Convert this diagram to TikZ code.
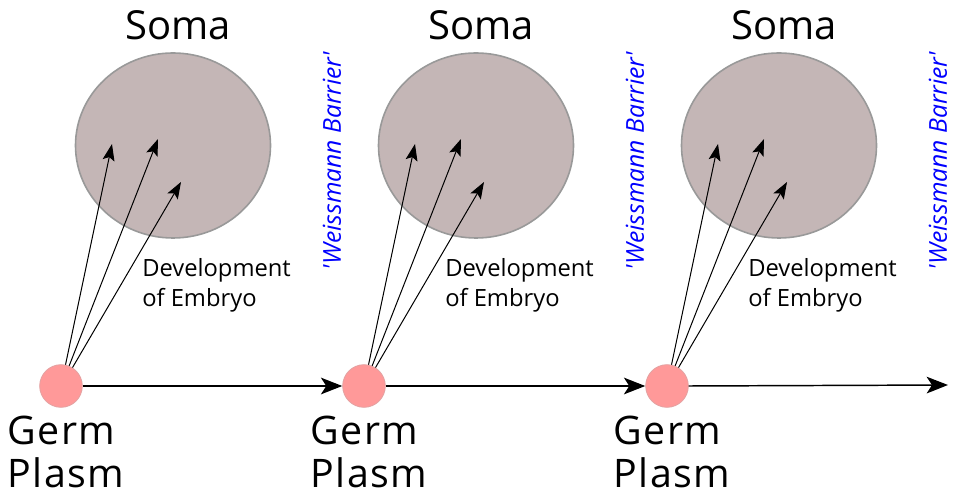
\documentclass[tikz,border=0pt]{standalone}
\usepackage{fontspec}
\setmainfont{Open Sans}
\newfontfamily\germfont[LetterSpace=4]{Open Sans}
\newfontfamily\barrierfont{Open Sans}
\usetikzlibrary{arrows.meta,shapes.geometric}
\definecolor{somafill}{HTML}{C4B6B6}
\definecolor{somaline}{HTML}{999999}
\definecolor{germfill}{HTML}{FF9999}
\definecolor{germline}{HTML}{E3A3A3}
\definecolor{barrierblue}{HTML}{0000FF}
\tikzset{
  somabox/.style={ellipse, draw=somaline, fill=somafill, line width=1.2pt, minimum width=146.25pt, minimum height=138.75pt, inner sep=0pt},
  germdot/.style={circle, draw=germline, fill=germfill, line width=0.6pt, minimum size=32pt, inner sep=0pt},
  somatext/.style={font=\fontsize{30}{36}\selectfont, anchor=base, inner sep=0pt},
  germtext/.style={font=\germfont\fontsize{29.5}{33}\selectfont, anchor=base west, inner sep=0pt},
  devtext/.style={font=\fontsize{17.8}{22.5}\selectfont, anchor=base west, inner sep=0pt},
  barriertext/.style={font=\barrierfont\fontsize{18.5}{22}\selectfont\itshape, text=barrierblue, rotate=90, inner sep=0pt},
  fanarrow/.style={-{Stealth[length=12.5pt,width=9pt,inset=2.5pt]}, line width=0.75pt},
  linearrow/.style={-{Stealth[length=16pt,width=12.5pt,inset=4pt]}, line width=1.1pt}
}
\begin{document}
\begin{tikzpicture}[x=0.75pt,y=-0.75pt]
\useasboundingbox (0,0) rectangle (960,498);
\foreach \i in {0,1,2}{
  \begin{scope}[xshift=\i*303*0.75pt]
    \node[somabox] (soma\i) at (173,145.5) {};
    \node[somatext] (somal\i) at (178,40) {Soma};
    \node[germdot] (germ\i) at (61,386) {};
    \node[germtext] (germa\i) at (7,445) {Germ};
    \node[germtext] (germb\i) at (7,488) {Plasm};
    \node[devtext] (deva\i) at (142,277) {Development};
    \node[devtext] (devb\i) at (142,307) {of Embryo};
    \node[barriertext] (barrier\i) at (332,161) {'Weissmann Barrier'};
    \coordinate (tipa\i) at (112,144);
    \coordinate (tipb\i) at (158,139);
    \coordinate (tipc\i) at (181,182);
    \draw[fanarrow] (germ\i.78) -- (tipa\i);
    \draw[fanarrow] (germ\i.68) -- (tipb\i);
    \draw[fanarrow] (germ\i.58) -- (tipc\i);
  \end{scope}
}
\coordinate (end) at (948,385);
\draw[linearrow] (germ0.east) -- (germ1.west);
\draw[linearrow] (germ1.east) -- (germ2.west);
\draw[linearrow] (germ2.east) -- (end);
\end{tikzpicture}
\end{document}
